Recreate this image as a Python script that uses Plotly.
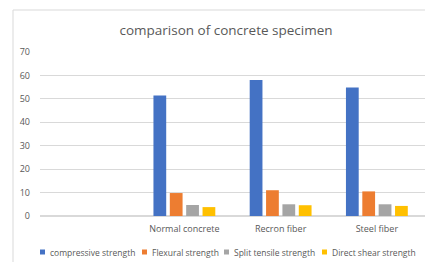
import plotly.graph_objects as go

categories = [" ", "Normal concrete", "Recron fiber", "Steel fiber"]
compressive = [None, 51.4, 58.0, 54.8]
flexural = [None, 9.8, 11.0, 10.5]
split_tensile = [None, 4.7, 5.0, 5.0]
direct_shear = [None, 3.8, 4.6, 4.3]
y_ticks = [0, 10, 20, 30, 40, 50, 60, 70]

series_names = ["compressive strength", "Flexural strength",
                "Split tensile strength", "Direct shear strength"]
series_values = [compressive, flexural, split_tensile, direct_shear]
series_colors = ["#4472C4", "#ED7D31", "#A5A5A5", "#FFC000"]

fig = go.Figure()
for name, vals, color in zip(series_names, series_values, series_colors):
    fig.add_trace(go.Bar(x=categories, y=vals, name=name, marker_color=color,
                         marker_line_width=0, showlegend=False))

W, H = 425, 262
L, R, T, B = 40, 0, 52, 46
pw, ph = W - L - R, H - T - B

def px(x):
    return (x - L) / pw

def py(y):
    return (H - B - y) / ph

# manual legend (single row, compact like the original)
legend_text_x = [48, 150, 232, 330]
legend_y = 252
shapes = [dict(type="rect", xref="paper", yref="paper",
               x0=px(13), x1=px(440), y0=py(275), y1=py(10),
               line=dict(color="#d9d9d9", width=1), fillcolor="rgba(0,0,0,0)", layer="below")]
annotations = []
for name, color, tx in zip(series_names, series_colors, legend_text_x):
    shapes.append(dict(type="rect", xref="paper", yref="paper",
                       x0=px(tx - 8), x1=px(tx - 3), y0=py(legend_y + 2.5), y1=py(legend_y - 2.5),
                       line=dict(width=0), fillcolor=color))
    annotations.append(dict(text=name, xref="paper", yref="paper", x=px(tx), y=py(legend_y),
                            xanchor="left", yanchor="middle", showarrow=False,
                            font=dict(size=8.5, color="#595959")))

fig.update_layout(
    width=W, height=H,
    margin=dict(l=L, r=R, t=T, b=B, pad=0, autoexpand=False),
    paper_bgcolor="white", plot_bgcolor="white",
    font=dict(family="Open Sans, sans-serif", color="#595959", size=9),
    title=dict(text="comparison of concrete specimen", x=226 / W, xanchor="center", xref="container",
               y=1 - 30 / H, yanchor="middle", font=dict(size=13.5, color="#595959")),
    barmode="group", bargap=0.32, bargroupgap=0.22,
    showlegend=False,
    xaxis=dict(type="category", categoryorder="array", categoryarray=categories,
               range=[-0.5, 3.5], showgrid=False, showline=False, ticks="", automargin=False,
               tickfont=dict(size=9, color="#595959"), ticklabelstandoff=6),
    yaxis=dict(range=[0, 70], tickvals=y_ticks, showgrid=True, gridcolor="#d9d9d9",
               gridwidth=1, zeroline=True, zerolinecolor="#d9d9d9", showline=False,
               ticks="", automargin=False,
               tickfont=dict(size=9, color="#595959"), ticklabelstandoff=9),
    shapes=shapes,
    annotations=annotations,
)

fig.write_html("out.html", config={"displayModeBar": False},
               post_script="document.body.style.margin='0';document.body.style.overflow='hidden';")
